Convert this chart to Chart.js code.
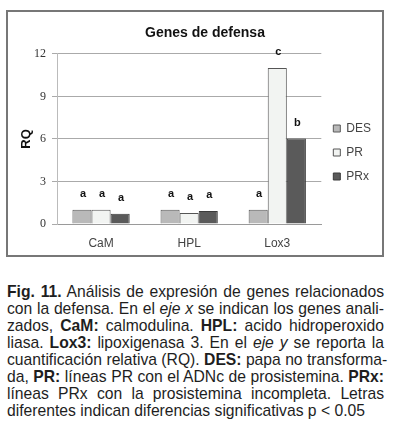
<!DOCTYPE html>
<html>
<head>
<meta charset="utf-8">
<script src="https://cdn.jsdelivr.net/npm/chart.js@4.4.0/dist/chart.umd.min.js"></script>
<style>
  body { margin: 0; background: #fff; width: 394px; height: 439px; overflow: hidden; position: relative; }
  #box { position: absolute; left: 6px; top: 10px; width: 374px; height: 243px; border: 2px solid #777; }
  #caption { position: absolute; left: 7px; top: 283px; width: 377px; font: 15.7px "Liberation Sans", Arial, sans-serif; line-height: 17px; color: #1e1e1e; }
  #caption div { text-align: justify; text-align-last: justify; white-space: nowrap; }
  #caption div.last { text-align-last: left; }
</style>
</head>
<body>
<div id="box"><canvas id="genesChart" width="374" height="243"></canvas></div>
<div id="caption">
  <div><b>Fig. 11.</b> Análisis de expresión de genes relacionados</div>
  <div>con la defensa. En el <i>eje x</i> se indican los genes anali-</div>
  <div>zados, <b>CaM:</b> calmodulina. <b>HPL:</b> acido hidroperoxido</div>
  <div>liasa. <b>Lox3:</b> lipoxigenasa 3. En el <i>eje y</i> se reporta la</div>
  <div>cuantificación relativa (RQ). <b>DES:</b> papa no transforma-</div>
  <div>da, <b>PR:</b> líneas PR con el ADNc de prosistemina. <b>PRx:</b></div>
  <div>líneas PRx con la prosistemina incompleta. Letras</div>
  <div class="last">diferentes indican diferencias significativas p &lt; 0.05</div>
</div>
<script>
// datos del gráfico
const categories = ['CaM', 'HPL', 'Lox3'];
const desValues = [1.0, 1.0, 1.0];
const prValues = [1.0, 0.78, 11.0];
const prxValues = [0.72, 0.92, 6.02];
const desLetters = ['a', 'a', 'a'];
const prLetters = ['a', 'a', 'c'];
const prxLetters = ['a', 'a', 'b'];

// letras de significancia encima de cada barra
const letterPlugin = {
    id: 'letters',
    afterDatasetsDraw(chart) {
        const ctx = chart.ctx;
        ctx.save();
        ctx.font = 'bold 11px "Liberation Sans", Arial, sans-serif';
        ctx.fillStyle = '#111';
        ctx.textAlign = 'center';
        ctx.textBaseline = 'middle';
        chart.data.datasets.forEach((ds, i) => {
            chart.getDatasetMeta(i).data.forEach((bar, j) => {
                ctx.fillText(ds.letters[j], bar.x + 1, bar.y - 16);
            });
        });
        ctx.restore();
    }
};

const ctx = document.getElementById('genesChart').getContext('2d');
new Chart(ctx, {
    type: 'bar',
    data: {
        labels: categories,
        datasets: [
            { label: 'DES', data: desValues, letters: desLetters, backgroundColor: '#b9b9b9', borderColor: '#5a5a5a', borderWidth: 1 },
            { label: 'PR', data: prValues, letters: prLetters, backgroundColor: '#f2f4f2', borderColor: '#555', borderWidth: 1 },
            { label: 'PRx', data: prxValues, letters: prxLetters, backgroundColor: '#5a5a5a', borderColor: '#3a3a3a', borderWidth: 1 }
        ]
    },
    options: {
        responsive: false,
        animation: false,
        devicePixelRatio: 1,
        layout: { padding: { left: 21, right: 1, top: 0, bottom: 0 } },
        datasets: { bar: { categoryPercentage: 0.65, barPercentage: 1 } },
        plugins: {
            title: {
                display: true,
                text: 'Genes de defensa',
                color: '#111',
                font: { family: '"Liberation Sans", Arial, sans-serif', size: 14, weight: 'bold' },
                padding: { top: 13, bottom: 12 }
            },
            legend: {
                position: 'right',
                title: {
                    display: true,
                    text: ' ',
                    padding: 7,
                    font: { size: 20 }
                },
                labels: {
                    boxWidth: 7,
                    boxHeight: 7,
                    padding: 12,
                    color: '#444',
                    font: { family: '"Liberation Sans", Arial, sans-serif', size: 12 }
                }
            },
            tooltip: { enabled: false }
        },
        scales: {
            x: {
                afterFit(scale) { scale.height = 31; },
                grid: { display: false, drawTicks: false },
                border: { display: true, color: '#9a9a9a' },
                ticks: {
                    padding: 12,
                    color: '#444',
                    font: { family: '"Liberation Sans", Arial, sans-serif', size: 12 }
                }
            },
            y: {
                min: 0,
                max: 12,
                afterFit(scale) { scale.width = 28; },
                grid: { color: '#aaa', tickLength: 5 },
                border: { display: true, color: '#bbb' },
                ticks: {
                    stepSize: 3,
                    padding: 6,
                    color: '#333',
                    font: { family: '"Liberation Serif", "Times New Roman", serif', size: 12 }
                },
                title: {
                    display: true,
                    text: 'RQ',
                    color: '#111',
                    font: { family: '"Liberation Sans", Arial, sans-serif', size: 13, weight: 'bold' },
                    padding: { top: -10, bottom: 0 }
                }
            }
        }
    },
    plugins: [letterPlugin]
});
</script>
</body>
</html>
